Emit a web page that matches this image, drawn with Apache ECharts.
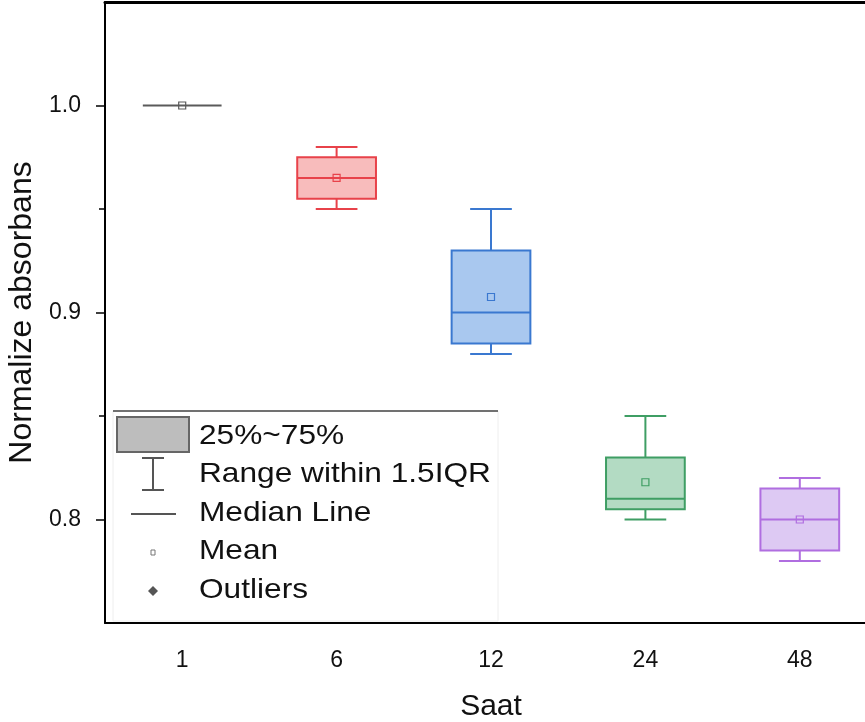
<!DOCTYPE html>
<html>
<head>
<meta charset="utf-8">
<script src="https://cdn.jsdelivr.net/npm/echarts@6/dist/echarts.min.js"></script>
<style>html,body{margin:0;padding:0;background:#fff;}#c{width:865px;height:722px;}</style>
</head>
<body>
<div id="c"></div>
<script>
var categories = ['1', '6', '12', '24', '48'];
var mins    = [1.0, 0.95, 0.88, 0.80, 0.78];
var q1s     = [1.0, 0.955, 0.885, 0.805, 0.785];
var medians = [1.0, 0.965, 0.90, 0.81, 0.80];
var q3s     = [1.0, 0.975, 0.93, 0.83, 0.815];
var maxs    = [1.0, 0.98, 0.95, 0.85, 0.82];
var means   = [1.0, 0.965, 0.9075, 0.818, 0.80];
var yTickLabels = [0.8, 0.9, 1.0];
var yMinorTicks = [0.85, 0.95];
var strokeColors = ['#5a5a5a', '#e8424a', '#3a78d0', '#3f9e64', '#b06ee0'];
var fillColors   = ['#c8c8c8', '#f8bcbc', '#a9c8ef', '#b3dbc3', '#ddc9f3'];
var legendLabels = ['25%~75%', 'Range within 1.5IQR', 'Median Line', 'Mean', 'Outliers'];

var FONT = 'Liberation Sans, Arial, sans-serif';

var boxData = categories.map(function (c, i) {
  return [i, mins[i], q1s[i], medians[i], q3s[i], maxs[i], means[i]];
});

function renderBox(params, api) {
  var i = api.value(0);
  var band = api.size([1, 0])[0];
  var bw = band * 0.51;
  var cw = band * 0.27;
  var pMin = api.coord([i, api.value(1)]);
  var pQ1 = api.coord([i, api.value(2)]);
  var pMed = api.coord([i, api.value(3)]);
  var pQ3 = api.coord([i, api.value(4)]);
  var pMax = api.coord([i, api.value(5)]);
  var pMean = api.coord([i, api.value(6)]);
  var x = pMed[0];
  var sc = strokeColors[i], fc = fillColors[i];
  var ls = {stroke: sc, lineWidth: 2};
  var children = [];
  if (Math.abs(pQ3[1] - pQ1[1]) > 0.5) {
    children.push({type: 'line', shape: {x1: x, y1: pMax[1], x2: x, y2: pQ3[1]}, style: ls});
    children.push({type: 'line', shape: {x1: x, y1: pMin[1], x2: x, y2: pQ1[1]}, style: ls});
    children.push({type: 'line', shape: {x1: x - cw / 2, y1: pMax[1], x2: x + cw / 2, y2: pMax[1]}, style: ls});
    children.push({type: 'line', shape: {x1: x - cw / 2, y1: pMin[1], x2: x + cw / 2, y2: pMin[1]}, style: ls});
    children.push({type: 'rect', shape: {x: x - bw / 2, y: pQ3[1], width: bw, height: pQ1[1] - pQ3[1]},
      style: {fill: fc, stroke: sc, lineWidth: 2}});
  }
  children.push({type: 'line', shape: {x1: x - bw / 2, y1: pMed[1], x2: x + bw / 2, y2: pMed[1]}, style: ls});
  children.push({type: 'rect', shape: {x: pMean[0] - 3.5, y: pMean[1] - 3.5, width: 7, height: 7},
    style: {fill: 'none', stroke: sc, lineWidth: 1.2}});
  return {type: 'group', children: children};
}

var LX = 113, LY = 411, TX = 199;
var legendGraphics = [
  {type: 'rect', shape: {x: LX, y: LY, width: 385, height: 210}, style: {fill: '#fff', stroke: '#eeeeee', lineWidth: 1}, z: 10},
  {type: 'line', shape: {x1: LX, y1: LY, x2: LX + 385, y2: LY}, style: {stroke: '#444', lineWidth: 1.5}, z: 11},
  {type: 'rect', shape: {x: 117, y: 417, width: 72, height: 35}, style: {fill: '#bdbdbd', stroke: '#666', lineWidth: 2}, z: 11},
  {type: 'line', shape: {x1: 153, y1: 458, x2: 153, y2: 490}, style: {stroke: '#555', lineWidth: 2}, z: 11},
  {type: 'line', shape: {x1: 142, y1: 458, x2: 164, y2: 458}, style: {stroke: '#555', lineWidth: 2}, z: 11},
  {type: 'line', shape: {x1: 142, y1: 490, x2: 164, y2: 490}, style: {stroke: '#555', lineWidth: 2}, z: 11},
  {type: 'line', shape: {x1: 131, y1: 514, x2: 176, y2: 514}, style: {stroke: '#555', lineWidth: 2}, z: 11},
  {type: 'rect', shape: {x: 151, y: 550, width: 4, height: 5}, style: {fill: 'none', stroke: '#777', lineWidth: 1}, z: 11},
  {type: 'polygon', shape: {points: [[153, 586], [158, 591], [153, 596], [148, 591]]}, style: {fill: '#555'}, z: 11}
];
var legendYs = [436, 474, 513, 551, 590];
legendLabels.forEach(function (t, k) {
  legendGraphics.push({type: 'text', x: TX, y: legendYs[k], scaleX: 1.13, z: 12,
    style: {text: t, font: '28px ' + FONT, fill: '#111', verticalAlign: 'middle', align: 'left'}});
});

var chart = echarts.init(document.getElementById('c'), null, {renderer: 'canvas'});
chart.setOption({
  backgroundColor: '#fff',
  animation: false,
  grid: {left: 105, top: 2, width: 772, bottom: 99, containLabel: false, outerBoundsMode: 'none'},
  xAxis: [{
    type: 'category', data: categories, position: 'bottom',
    axisLine: {lineStyle: {color: '#000', width: 2}},
    axisTick: {alignWithLabel: true, length: 9, lineStyle: {color: '#000', width: 1.5}},
    axisLabel: {fontSize: 23, color: '#111', fontFamily: FONT, margin: 26},
    name: 'Saat', nameLocation: 'middle', nameGap: 69,
    nameTextStyle: {fontSize: 30, color: '#111', fontFamily: FONT},
    splitLine: {show: false}
  }, {
    type: 'category', data: categories, position: 'top',
    axisLine: {lineStyle: {color: '#000', width: 3}},
    axisTick: {show: false}, axisLabel: {show: false}
  }],
  yAxis: [{
    type: 'value', min: 0.75, max: 1.05, interval: 0.05,
    axisLine: {show: true, lineStyle: {color: '#000', width: 2}},
    axisTick: {show: true, length: 9, customValues: yTickLabels, lineStyle: {color: '#000', width: 1.5}},
    axisLabel: {fontSize: 23, color: '#111', fontFamily: FONT, margin: 24, customValues: yTickLabels,
      formatter: function (v) { return v.toFixed(1); }},
    splitLine: {show: false},
    name: 'Normalize absorbans', nameLocation: 'middle', nameGap: 66,
    nameTextStyle: {fontSize: 32, color: '#111', fontFamily: FONT}
  }, {
    type: 'value', min: 0.75, max: 1.05, interval: 0.05, position: 'left', offset: 0,
    axisLine: {show: false},
    axisTick: {show: true, length: 6, customValues: yMinorTicks, lineStyle: {color: '#000', width: 1.5}},
    axisLabel: {show: false},
    splitLine: {show: false}
  }],
  series: [{
    type: 'custom',
    xAxisIndex: 0, yAxisIndex: 0,
    renderItem: renderBox,
    encode: {x: 0, y: [1, 2, 3, 4, 5, 6]},
    data: boxData,
    clip: false
  }],
  graphic: legendGraphics
});
</script>
</body>
</html>
